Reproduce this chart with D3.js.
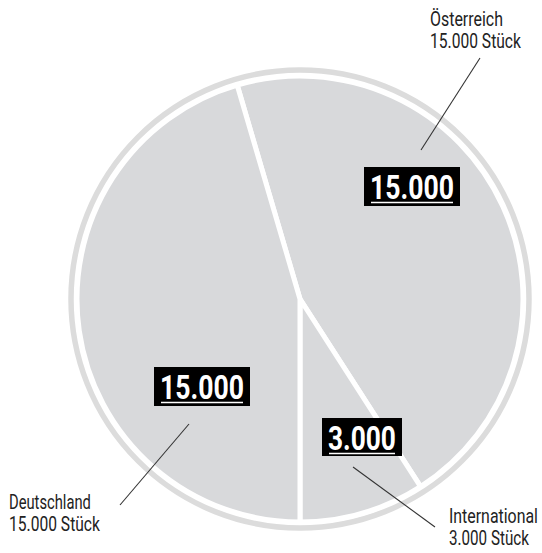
<!DOCTYPE html>
<html><head><meta charset="utf-8">
<script src="https://cdn.jsdelivr.net/npm/d3@7/dist/d3.min.js"></script>
<style>
html,body{margin:0;padding:0;background:#fff;}
svg{display:block;}
</style></head>
<body>
<svg id="chart" width="542" height="553"></svg>
<script>
// ---- data ----
const categories = ["Österreich", "International", "Deutschland"];
const values = [15000, 3000, 15000];
const valueLabels = ["15.000", "3.000", "15.000"];
const unitLabels = ["15.000 Stück", "3.000 Stück", "15.000 Stück"];

// ---- layout ----
const cx = 300, cy = 299;
const pieR = 223, ringR = 229;
const fontFam = 'Roboto,"Liberation Sans",sans-serif';
// label layout relative to pie centre
const layout = [
  {box:[64,-132,96,39], textW:84, line:[[121,-149],[180,-241]], lab:[130,-273], labW:[73,91]},
  {box:[22,119,80,38], textW:68, line:[[53,168],[135,228]], lab:[149,224], labW:[89,80]},
  {box:[-146,68,96,39], textW:84, line:[[-111,125],[-180,206]], lab:[-291,210], labW:[82,91]}
];

const svg = d3.select("#chart");
const g = svg.append("g").attr("transform", `translate(${cx},${cy})`);

const total = d3.sum(values);
// Österreich starts so that International ends straight down (180°)
const a0 = Math.PI - (values[0] + values[1]) / total * 2 * Math.PI;
const pie = d3.pie().sort(null).value(d => d).startAngle(a0).endAngle(a0 + 2 * Math.PI);
const arcs = pie(values);
const arc = d3.arc().innerRadius(0).outerRadius(pieR);

// outer ring
g.append("circle").attr("r", ringR).attr("fill", "none")
  .attr("stroke", "#dcdcdc").attr("stroke-width", 5.5);

g.selectAll("path.slice").data(arcs).enter().append("path")
  .attr("class", "slice")
  .attr("d", arc)
  .attr("fill", "#d8d9db")
  .attr("stroke", "#fff")
  .attr("stroke-width", 5)
  .attr("stroke-linejoin", "miter");

// text squeezed horizontally to a target width (condensed look)
function fitText(parent, str, x, y, w, attrs) {
  const t = parent.append("text").attr("x", 0).attr("y", 0).text(str);
  Object.entries(attrs).forEach(([k, v]) => t.attr(k, v));
  const nat = t.node().getComputedTextLength();
  const s = nat > 0 ? w / nat : 1;
  t.attr("transform", `translate(${x},${y}) scale(${s},1)`);
  return t;
}

arcs.forEach((a, i) => {
  const L = layout[i];
  g.append("line")
    .attr("x1", L.line[0][0]).attr("y1", L.line[0][1])
    .attr("x2", L.line[1][0]).attr("y2", L.line[1][1])
    .attr("stroke", "#333").attr("stroke-width", 1.1);

  const [bx, by, bw, bh] = L.box;
  g.append("rect").attr("x", bx).attr("y", by).attr("width", bw).attr("height", bh).attr("fill", "#000");
  const tx = bx + (bw - L.textW) / 2;
  fitText(g, valueLabels[i], tx, by + 31.5, L.textW,
    {"font-family": fontFam, "font-weight": "bold", "font-size": 34, "fill": "#fff"});
  g.append("line")
    .attr("x1", tx + 1).attr("x2", tx + L.textW - 1)
    .attr("y1", by + 35.5).attr("y2", by + 35.5)
    .attr("stroke", "#fff").attr("stroke-width", 1.5);

  const la = {"font-family": fontFam, "font-size": 19.5, "fill": "#222"};
  fitText(g, categories[i], L.lab[0], L.lab[1], L.labW[0], la);
  fitText(g, unitLabels[i], L.lab[0], L.lab[1] + 22, L.labW[1], la);
});
</script>
</body></html>
